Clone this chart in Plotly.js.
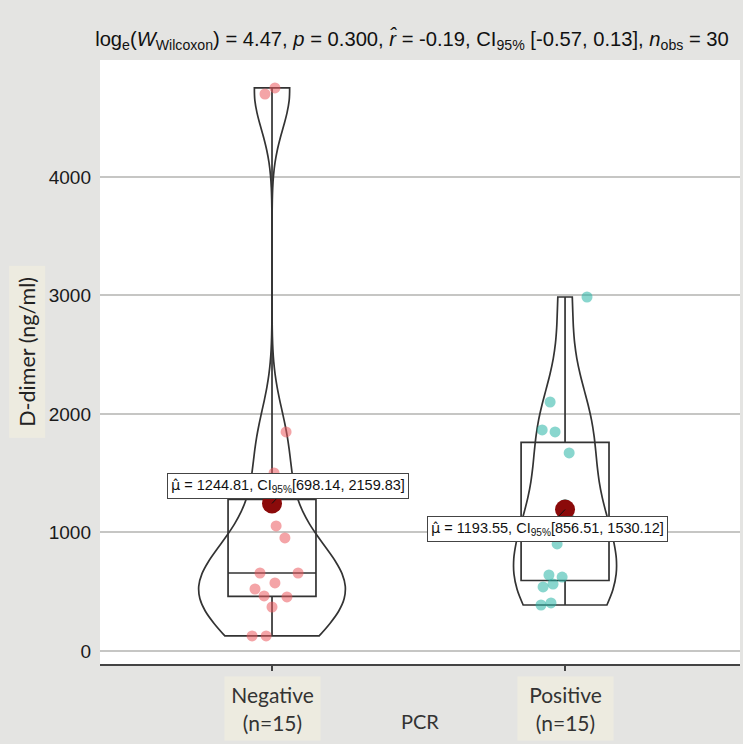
<!DOCTYPE html>
<html>
<head>
<meta charset="utf-8">
<script src="https://cdn.plot.ly/plotly-3.0.1.min.js"></script>
<style>html,body{margin:0;padding:0;background:#e4e4e2;}</style>
</head>
<body>
<div id="chart" style="width:743px;height:744px;"></div>
<script>
// ---- data ----
const categories = ["Negative", "Positive"];
const groupN = [15, 15];
const negativeValues = [1502, 1055, 954, 658, 658, 574, 523, 464, 456, 371, 127, 127, 4700, 4751, 1848];
const positiveValues = [2987, 2101, 1865, 1848, 1671, 903, 641, 624, 540, 565, 388, 405, 1010, 1120, 1235];
const negativeJitter = [0.007, 0.014, 0.044, -0.041, 0.089, 0.010, -0.058, -0.027, 0.051, 0.0, -0.068, -0.020, -0.024, 0.010, 0.048];
const positiveJitter = [0.075, -0.051, -0.078, -0.034, 0.014, -0.027, -0.055, -0.010, -0.075, -0.041, -0.082, -0.048, -0.020, 0.014, 0.0];
const meanValues = [1244.81, 1193.55];
const ciLow = ["698.14", "856.51"];
const ciHigh = ["2159.83", "1530.12"];
const meanLabels = ["1244.81", "1193.55"];
const yTicks = [0, 1000, 2000, 3000, 4000];
const titleText = "log<sub>e</sub>(<i>W</i><sub>Wilcoxon</sub>) = 4.47, <i>p</i> = 0.300, <i>r\u0302</i> = -0.19, CI<sub>95%</sub> [-0.57, 0.13], <i>n</i><sub>obs</sub> = 30";

// ---- styles ----
const groupValues = [negativeValues, positiveValues];
const groupJitter = [negativeJitter, positiveJitter];
const pointColors = ["rgba(235,90,95,0.55)", "rgba(40,180,165,0.55)"];
const violinWidths = [0.50, 0.35];
const bandwidths = [320, 396];
const lineCol = "#333333";

const traces = [];
categories.forEach((c, i) => {
  traces.push({
    type: "violin", x0: i, y: groupValues[i], name: c,
    spanmode: "hard", bandwidth: bandwidths[i], scalemode: "width", width: violinWidths[i],
    points: false, box: {visible: false}, meanline: {visible: false},
    line: {color: lineCol, width: 1.7}, fillcolor: "rgba(0,0,0,0)",
    hoverinfo: "skip", showlegend: false
  });
  traces.push({
    type: "box", x0: i, y: groupValues[i], name: c,
    boxpoints: false, quartilemethod: "inclusive", whiskerwidth: 0, width: 0.30,
    line: {color: lineCol, width: 1.7}, fillcolor: "rgba(0,0,0,0)",
    hoverinfo: "skip", showlegend: false
  });
  traces.push({
    type: "scatter", mode: "markers",
    x: groupValues[i].map((v, k) => i + groupJitter[i][k]), y: groupValues[i],
    marker: {size: 11, color: pointColors[i], line: {width: 0}},
    hoverinfo: "skip", showlegend: false
  });
});
traces.push({
  type: "scatter", mode: "markers", x: categories.map((c, i) => i), y: meanValues,
  marker: {size: 20, color: "#8b0a0a", line: {width: 0}},
  hoverinfo: "skip", showlegend: false
});

const annotations = [];
const labelOffsets = [[16, -17], [-18, 19]];
categories.forEach((c, i) => {
  annotations.push({
    x: i, y: meanValues[i], xref: "x", yref: "y",
    text: "<span style=\"font-family:'DejaVu Sans'\">\u03bc\u0302</span> = " + meanLabels[i] + ", CI<sub>95%</sub>[" + ciLow[i] + ", " + ciHigh[i] + "]",
    showarrow: true, arrowhead: 0, arrowwidth: 1, arrowcolor: "#111", standoff: 0,
    ax: labelOffsets[i][0], ay: labelOffsets[i][1],
    font: {family: "Liberation Sans, Arial, sans-serif", size: 14.5, color: "#111"},
    bgcolor: "#ffffff", bordercolor: "#444", borderwidth: 1, borderpad: 3
  });
  annotations.push({
    x: i, y: 0, xref: "x", yref: "paper", yanchor: "middle", yshift: -44,
    text: c + "<br>(n=" + groupN[i] + ")", showarrow: false,
    font: {family: "Lato, 'Open Sans', sans-serif", size: 21, color: "#333"},
    bgcolor: "#edebe0", width: 89, height: 57, borderpad: 3
  });
});
annotations.push({
  x: 0.5, y: 0, xref: "paper", yref: "paper", yanchor: "middle", yshift: -57,
  text: "PCR", showarrow: false,
  font: {family: "Lato, 'Open Sans', sans-serif", size: 20, color: "#333"}
});
annotations.push({
  x: 0, y: 0.516, xref: "paper", yref: "paper", xanchor: "center", yanchor: "middle", xshift: -73,
  text: "D-dimer (ng/ml)", showarrow: false, textangle: -90,
  font: {family: "Lato, 'Open Sans', sans-serif", size: 21.5, color: "#222"},
  bgcolor: "#edebe0", width: 165, height: 29, borderpad: 3
});

const layout = {
  width: 743, height: 744,
  margin: {l: 100, r: 3, t: 60, b: 80},
  paper_bgcolor: "#e4e4e2", plot_bgcolor: "#ffffff",
  showlegend: false,
  title: {text: titleText, x: 0.4875, xref: "paper", xanchor: "center", y: 0.948, yref: "container", yanchor: "middle",
          font: {family: "Liberation Sans, Arial, sans-serif", size: 20.2, color: "#111"}},
  xaxis: {
    range: [-0.587, 1.597], tickvals: categories.map((c, i) => i), showticklabels: false,
    showgrid: false, zeroline: false, showline: true, linecolor: "#444", linewidth: 2,
    ticks: "outside", ticklen: 5, tickcolor: "#444", tickwidth: 1.5
  },
  yaxis: {
    range: [-110, 4987], tickvals: yTicks, ticktext: yTicks.map(String),
    showgrid: true, gridcolor: "#c6c6c4", gridwidth: 2, zeroline: false, showline: false,
    ticks: "", ticklabelstandoff: 8,
    tickfont: {family: "Liberation Sans, Arial, sans-serif", size: 19, color: "#1a1a1a"}
  },
  annotations: annotations
};

Plotly.newPlot("chart", traces, layout, {displayModeBar: false, staticPlot: true});
</script>
</body>
</html>
